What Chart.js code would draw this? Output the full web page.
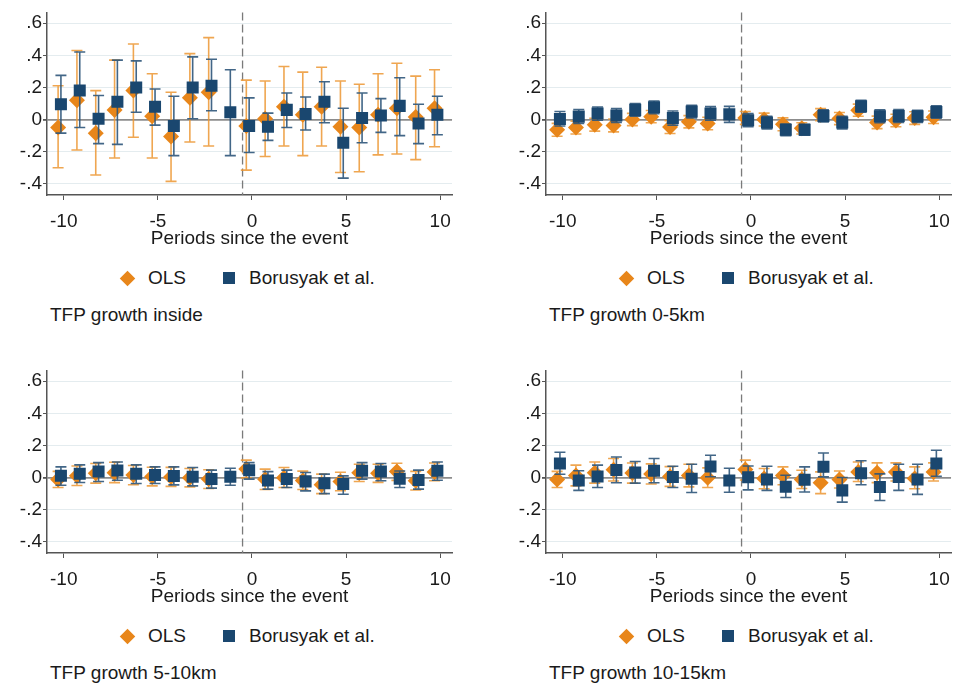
<!DOCTYPE html>
<html lang="en">
<head>
<meta charset="UTF-8" />
<title>TFP growth event study</title>
<script src="https://cdn.jsdelivr.net/npm/chart.js"></script>
<style>
  body { margin: 0; width: 960px; height: 689px; overflow: hidden; background: #fff;
         font-family: "Liberation Sans", Arial, sans-serif; color: #1a1a1a; }
  .panel { position: absolute; width: 461px; height: 358px; }
  .panel canvas { position: absolute; left: 0; top: 0; }
  .txt { position: absolute; font-size: 19px; line-height: 22px; white-space: nowrap; }
  .diamond { position: absolute; width: 11px; height: 11px; background: #e8861a; transform: rotate(45deg); }
  .square { position: absolute; width: 12px; height: 12px; background: #1a476f; }
</style>
</head>
<body>
<div id="root"></div>

<script>
// periods since the event (OLS omits -1, the reference period)
const periods = [-10, -9, -8, -7, -6, -5, -4, -3, -2, -1, 0, 1, 2, 3, 4, 5, 6, 7, 8, 9, 10];
const xTicks = [-10, -5, 0, 5, 10];
const yTicks = [-0.4, -0.2, 0, 0.2, 0.4, 0.6];
const yTickLabels = ['-.4', '-.2', '0', '.2', '.4', '.6'];
const panelTitles = ['TFP growth inside', 'TFP growth 0-5km', 'TFP growth 5-10km', 'TFP growth 10-15km'];

// TFP growth inside
const ols1   = [-0.05, 0.12, -0.085, 0.06, 0.18, 0.02, -0.105, 0.135, 0.17, null, -0.04, 0.005, 0.08, 0.03, 0.08, -0.045, -0.05, 0.03, 0.07, 0.015, 0.07];
const ols1Lo = [-0.30, -0.19, -0.345, -0.24, -0.11, -0.24, -0.385, -0.14, -0.165, null, -0.315, -0.23, -0.165, -0.225, -0.165, -0.33, -0.325, -0.22, -0.215, -0.25, -0.17];
const ols1Hi = [0.21, 0.43, 0.18, 0.37, 0.47, 0.285, 0.17, 0.41, 0.51, null, 0.245, 0.24, 0.33, 0.295, 0.325, 0.24, 0.22, 0.285, 0.35, 0.27, 0.31];
const bor1   = [0.095, 0.18, 0.005, 0.11, 0.2, 0.08, -0.04, 0.2, 0.21, 0.045, -0.04, -0.045, 0.06, 0.035, 0.11, -0.145, 0.01, 0.025, 0.085, -0.025, 0.03];
const bor1Lo = [-0.085, -0.05, -0.15, -0.155, 0.045, -0.035, -0.225, 0.005, 0.055, -0.225, -0.205, -0.13, -0.05, -0.065, -0.02, -0.365, -0.145, -0.08, -0.10, -0.15, -0.095];
const bor1Hi = [0.275, 0.42, 0.15, 0.37, 0.365, 0.19, 0.145, 0.39, 0.375, 0.31, 0.135, 0.04, 0.165, 0.14, 0.235, 0.07, 0.165, 0.13, 0.26, 0.095, 0.145];

// TFP growth 0-5km
const ols2   = [-0.064, -0.05, -0.032, -0.037, 0.0, 0.018, -0.047, -0.014, -0.025, null, 0.01, 0.0, -0.03, -0.055, 0.03, 0.006, 0.058, -0.018, -0.006, 0.009, 0.014];
const ols2Lo = [-0.104, -0.09, -0.072, -0.077, -0.038, -0.02, -0.087, -0.052, -0.064, null, -0.03, -0.04, -0.07, -0.09, -0.008, -0.032, 0.02, -0.057, -0.045, -0.03, -0.025];
const ols2Hi = [-0.024, -0.01, 0.008, 0.003, 0.038, 0.056, -0.007, 0.024, 0.014, null, 0.05, 0.04, 0.01, -0.02, 0.068, 0.044, 0.096, 0.021, 0.033, 0.048, 0.053];
const bor2   = [0.003, 0.018, 0.037, 0.025, 0.06, 0.076, 0.009, 0.05, 0.037, 0.032, -0.004, -0.019, -0.064, -0.064, 0.022, -0.019, 0.082, 0.02, 0.022, 0.02, 0.047];
const bor2Lo = [-0.04, -0.025, -0.005, -0.018, 0.02, 0.036, -0.035, 0.01, -0.005, -0.018, -0.045, -0.058, -0.1, -0.098, -0.015, -0.058, 0.045, -0.02, -0.018, -0.018, 0.008];
const bor2Hi = [0.05, 0.062, 0.078, 0.068, 0.099, 0.115, 0.053, 0.088, 0.08, 0.082, 0.037, 0.02, -0.028, -0.03, 0.06, 0.02, 0.12, 0.06, 0.062, 0.058, 0.086];

// TFP growth 5-10km
const ols3   = [-0.012, 0.011, 0.026, 0.03, 0.015, 0.006, 0.004, -0.001, -0.01, null, 0.053, -0.011, -0.001, -0.018, -0.045, -0.025, 0.029, 0.027, 0.037, -0.02, 0.035];
const ols3Lo = [-0.062, -0.05, -0.035, -0.032, -0.045, -0.052, -0.055, -0.058, -0.068, null, -0.002, -0.075, -0.062, -0.075, -0.1, -0.082, -0.025, -0.03, -0.018, -0.078, -0.02];
const ols3Hi = [0.038, 0.072, 0.087, 0.095, 0.075, 0.064, 0.063, 0.056, 0.048, null, 0.108, 0.052, 0.062, 0.04, 0.021, 0.033, 0.083, 0.083, 0.089, 0.038, 0.09];
const bor3   = [0.011, 0.024, 0.038, 0.044, 0.024, 0.015, 0.009, 0.005, -0.009, 0.005, 0.045, -0.018, -0.009, -0.024, -0.035, -0.04, 0.042, 0.038, -0.007, -0.015, 0.042];
const bor3Lo = [-0.048, -0.031, -0.025, -0.017, -0.037, -0.037, -0.046, -0.052, -0.066, -0.048, -0.01, -0.072, -0.062, -0.083, -0.1, -0.104, -0.01, -0.02, -0.062, -0.072, -0.017];
const bor3Hi = [0.066, 0.079, 0.093, 0.097, 0.079, 0.066, 0.066, 0.062, 0.046, 0.058, 0.093, 0.037, 0.046, 0.031, 0.021, 0.01, 0.093, 0.087, 0.041, 0.046, 0.097];

// TFP growth 10-15km
const ols4   = [-0.012, 0.012, 0.03, 0.048, 0.028, 0.022, 0.006, 0.012, -0.001, null, 0.05, -0.006, 0.012, -0.012, -0.033, -0.012, 0.035, 0.029, 0.035, -0.006, 0.035];
const ols4Lo = [-0.062, -0.052, -0.035, -0.022, -0.035, -0.04, -0.055, -0.058, -0.062, null, -0.015, -0.07, -0.045, -0.068, -0.1, -0.065, -0.025, -0.032, -0.022, -0.07, -0.022];
const ols4Hi = [0.038, 0.077, 0.097, 0.118, 0.09, 0.085, 0.068, 0.083, 0.06, null, 0.108, 0.056, 0.066, 0.045, 0.035, 0.041, 0.097, 0.091, 0.091, 0.066, 0.091];
const bor4   = [0.088, -0.018, 0.007, 0.047, 0.031, 0.042, 0.003, -0.007, 0.069, -0.018, 0.001, -0.012, -0.057, -0.014, 0.067, -0.08, 0.027, -0.059, 0.003, -0.012, 0.088];
const bor4Lo = [0.02, -0.08, -0.062, -0.033, -0.035, -0.033, -0.062, -0.093, 0.005, -0.092, -0.077, -0.08, -0.124, -0.09, 0.004, -0.153, -0.045, -0.143, -0.08, -0.105, 0.008];
const bor4Hi = [0.157, 0.042, 0.077, 0.128, 0.1, 0.118, 0.07, 0.083, 0.139, 0.058, 0.072, 0.07, 0.014, 0.066, 0.153, 0.0, 0.104, 0.023, 0.083, 0.083, 0.17];

const panels = [
    { title: panelTitles[0], ols: [ols1, ols1Lo, ols1Hi], bor: [bor1, bor1Lo, bor1Hi], left: 0,   top: 0 },
    { title: panelTitles[1], ols: [ols2, ols2Lo, ols2Hi], bor: [bor2, bor2Lo, bor2Hi], left: 499, top: 0 },
    { title: panelTitles[2], ols: [ols3, ols3Lo, ols3Hi], bor: [bor3, bor3Lo, bor3Hi], left: 0,   top: 358 },
    { title: panelTitles[3], ols: [ols4, ols4Lo, ols4Hi], bor: [bor4, bor4Lo, bor4Hi], left: 499, top: 358 },
];

const ORANGE = '#e8861a';
const NAVY = '#1a476f';

Chart.defaults.font.family = '"Liberation Sans", Arial, sans-serif';
Chart.defaults.font.size = 19;
Chart.defaults.color = '#1a1a1a';

// build scatter points, shifted a bit left so the two estimators sit side by side
function points(series, shift) {
    const [est, lo, hi] = series;
    return periods.map((p, i) => ({ x: p + shift, y: est[i], lo: lo[i], hi: hi[i] }))
                  .filter(d => d.y !== null);
}

// error bars with caps, drawn through the scales
const errorBars = {
    id: 'errorBars',
    beforeDatasetDraw(chart, args) {
        const ds = chart.data.datasets[args.index];
        const xs = chart.scales.x, ys = chart.scales.y, ctx = chart.ctx;
        ctx.save();
        ctx.strokeStyle = ds.barColor;
        ctx.lineWidth = 1.6;
        ds.data.forEach(d => {
            const px = xs.getPixelForValue(d.x);
            const top = ys.getPixelForValue(d.hi);
            const bot = ys.getPixelForValue(d.lo);
            ctx.beginPath();
            ctx.moveTo(px, top); ctx.lineTo(px, bot);
            ctx.moveTo(px - 5.5, top); ctx.lineTo(px + 5.5, top);
            ctx.moveTo(px - 5.5, bot); ctx.lineTo(px + 5.5, bot);
            ctx.stroke();
        });
        ctx.restore();
    }
};

// dashed line between -1 and 0
const eventLine = {
    id: 'eventLine',
    beforeDatasetsDraw(chart) {
        const { ctx, chartArea } = chart;
        const px = chart.scales.x.getPixelForValue(-0.5);
        ctx.save();
        ctx.strokeStyle = '#7a7a7a';
        ctx.lineWidth = 1.3;
        ctx.setLineDash([8, 4]);
        ctx.beginPath();
        ctx.moveTo(px, chartArea.top);
        ctx.lineTo(px, chartArea.bottom);
        ctx.stroke();
        ctx.restore();
    }
};

const root = document.getElementById('root');

panels.forEach(panel => {
    const div = document.createElement('div');
    div.className = 'panel';
    div.style.left = panel.left + 'px';
    div.style.top = panel.top + 'px';
    div.innerHTML = `
        <canvas width="461" height="250"></canvas>
        <span class="diamond" style="left:122px; top:273px"></span>
        <span class="txt" style="left:148px; top:267px">OLS</span>
        <span class="square" style="left:223px; top:272px"></span>
        <span class="txt" style="left:249px; top:267px">Borusyak et al.</span>
        <span class="txt" style="left:50px; top:304px">${panel.title}</span>`;
    root.appendChild(div);

    new Chart(div.querySelector('canvas'), {
        type: 'scatter',
        data: {
            datasets: [
                {
                    label: 'OLS',
                    data: points(panel.ols, -0.3),
                    pointStyle: 'rectRot',
                    pointRadius: 8,
                    backgroundColor: ORANGE,
                    borderWidth: 0,
                    barColor: 'rgba(236, 150, 50, 0.85)',
                    order: 2
                },
                {
                    label: 'Borusyak et al.',
                    data: points(panel.bor, -0.15),
                    pointStyle: 'rect',
                    pointRadius: 8.5,
                    backgroundColor: NAVY,
                    borderWidth: 0,
                    barColor: 'rgba(45, 85, 122, 0.9)',
                    order: 1
                }
            ]
        },
        options: {
            responsive: false,
            animation: false,
            events: [],
            layout: { padding: { top: 11, right: 3, left: 0, bottom: 0 } },
            plugins: { legend: { display: false }, tooltip: { enabled: false } },
            scales: {
                x: {
                    type: 'linear',
                    min: -10.89,
                    max: 10.63,
                    afterBuildTicks: axis => { axis.ticks = xTicks.map(v => ({ value: v })); },
                    afterFit: axis => { axis.height = 55; },
                    grid: { drawOnChartArea: false, tickLength: 5, tickColor: '#555' },
                    border: { color: '#555', width: 1.5 },
                    ticks: { padding: 10, maxRotation: 0, callback: v => String(v) },
                    title: { display: true, text: 'Periods since the event', padding: { top: 0, bottom: 0 } }
                },
                y: {
                    type: 'linear',
                    min: -0.47,
                    max: 0.667,
                    afterBuildTicks: axis => { axis.ticks = yTicks.map(v => ({ value: v })); },
                    afterFit: axis => { axis.width = 47; },
                    grid: {
                        tickLength: 4,
                        tickColor: '#555',
                        color: c => (c.tick && c.tick.value === 0) ? '#8c8c8c' : '#e4ecef',
                        lineWidth: c => (c.tick && c.tick.value === 0) ? 1.8 : 1
                    },
                    border: { color: '#555', width: 1.5 },
                    ticks: { padding: 1, callback: v => yTickLabels[yTicks.indexOf(v)] }
                }
            }
        },
        plugins: [eventLine, errorBars]
    });
});
</script>
</body>
</html>
